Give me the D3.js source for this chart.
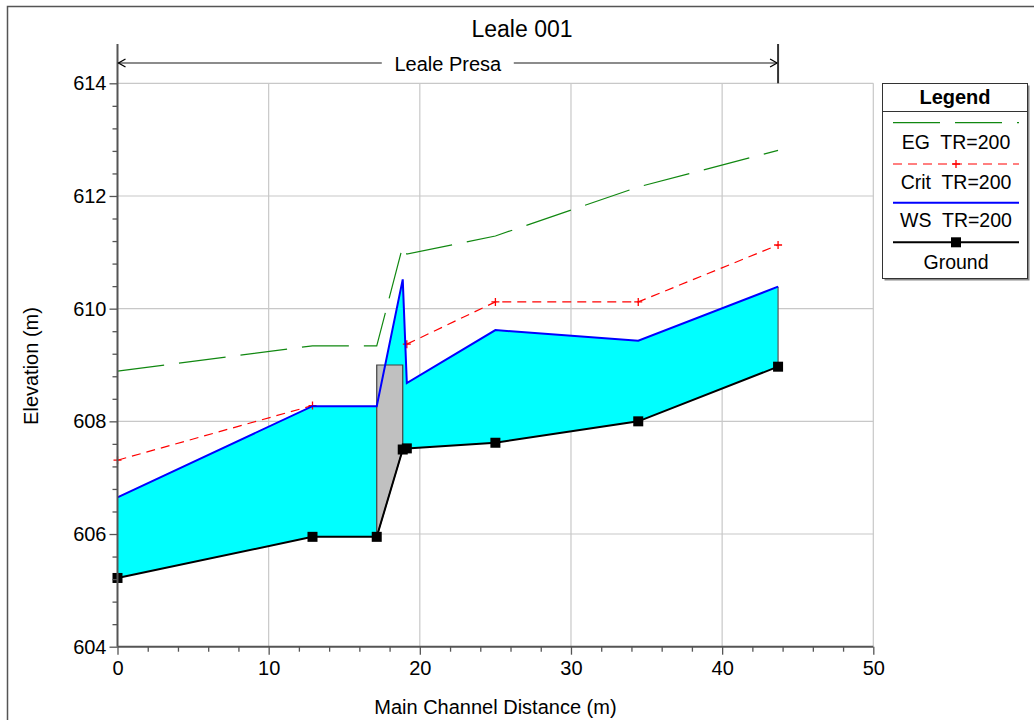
<!DOCTYPE html>
<html><head><meta charset="utf-8">
<script src="https://cdn.jsdelivr.net/npm/d3@7"></script>
<style>
html,body{margin:0;padding:0;background:#fff;}
text{font-family:"Liberation Sans",Arial,sans-serif;fill:#000;}
</style></head>
<body>
<svg id="chart" width="1034" height="720"></svg>
<script>
// ---- data ----
const title = "Leale 001";
const reachName = "Leale Presa";
const stations = [0, 12.9, 17.15, 18.87, 19.14, 25.0, 34.45, 43.7];
const ground   = [605.22, 605.95, 605.95, 607.50, 607.52, 607.62, 608.00, 608.97];
const wsTR200  = [606.65, 608.27, 608.27, 610.52, 608.68, 609.62, 609.43, 610.39];
const critTR200= [607.31, 608.28, null, null, 609.37, 610.12, 610.12, 611.13];
const egTR200  = [608.89, 609.34, 609.34, 611.11, 610.97, 611.29, 612.16, 612.81];
const weirStations = [17.15, 18.87];
const weirTop = 609.0;
const xTicks = [0, 10, 20, 30, 40, 50];
const yTicks = [604, 606, 608, 610, 612, 614];
const legendLabels = ["EG  TR=200", "Crit  TR=200", "WS  TR=200", "Ground"];

// ---- layout ----
const svg = d3.select("#chart");
const x = d3.scaleLinear().domain([0, 50]).range([117.5, 873.3]);
const y = d3.scaleLinear().domain([604, 614]).range([646.7, 83.3]);

// outer frame
svg.append("rect").attr("x", 7.5).attr("y", 6.5).attr("width", 1040).attr("height", 730)
  .attr("fill", "none").attr("stroke", "#555").attr("stroke-width", 1.5);

// grid
const g = svg.append("g");
g.selectAll(".vg").data(xTicks.slice(1)).join("line")
  .attr("x1", d => x(d)).attr("x2", d => x(d)).attr("y1", y(604)).attr("y2", y(614))
  .attr("stroke", "#c8c8c8").attr("stroke-width", 1.2);
g.selectAll(".hg").data(yTicks.slice(1)).join("line")
  .attr("x1", x(0)).attr("x2", x(50)).attr("y1", d => y(d)).attr("y2", d => y(d))
  .attr("stroke", "#c8c8c8").attr("stroke-width", 1.2);

const pts = (arr) => stations.map((s, i) => [s, arr[i]]);

// water fill between ground and WS
const area = d3.area().x(d => x(d[0])).y0(d => y(d[1])).y1(d => y(d[2]));
g.append("path")
  .datum(stations.map((s, i) => [s, ground[i], wsTR200[i]]))
  .attr("d", area).attr("fill", "#00ffff").attr("stroke", "none");
// end vertical edge
g.append("line").attr("x1", x(stations[7])).attr("x2", x(stations[7]))
  .attr("y1", y(wsTR200[7])).attr("y2", y(ground[7])).attr("stroke", "#555").attr("stroke-width", 1.2);

// inline structure (weir)
const weirPoly = [[weirStations[0], weirTop], [weirStations[1], weirTop], [weirStations[1], ground[3]], [weirStations[0], ground[2]]];
g.append("path").datum(weirPoly)
  .attr("d", d3.line().x(d => x(d[0])).y(d => y(d[1])).curve(d3.curveLinearClosed))
  .attr("fill", "#c0c0c0").attr("stroke", "#404040").attr("stroke-width", 1.2);

const line = d3.line().defined(d => d[1] !== null).x(d => x(d[0])).y(d => y(d[1]));

// EG
g.append("path").datum(pts(egTR200)).attr("d", line).attr("fill", "none")
  .attr("stroke", "#118811").attr("stroke-width", 1.2).attr("stroke-dasharray", "47,15");
// Crit
g.append("path").datum(pts(critTR200)).attr("d", line).attr("fill", "none")
  .attr("stroke", "#ff0000").attr("stroke-width", 1.2).attr("stroke-dasharray", "9,6");
const plus = (sel, cx, cy) => {
  sel.append("path").attr("d", `M${cx-4},${cy}H${cx+4}M${cx},${cy-4}V${cy+4}`)
    .attr("stroke", "#ff0000").attr("stroke-width", 1.3).attr("fill", "none");
};
pts(critTR200).filter(d => d[1] !== null).forEach(d => plus(g, x(d[0]), y(d[1])));
// WS
g.append("path").datum(pts(wsTR200)).attr("d", line).attr("fill", "none")
  .attr("stroke", "#0000ff").attr("stroke-width", 2);
// Ground
g.append("path").datum(pts(ground)).attr("d", line).attr("fill", "none")
  .attr("stroke", "#000").attr("stroke-width", 2);
g.selectAll(".gm").data(pts(ground)).join("rect")
  .attr("x", d => x(d[0]) - 5).attr("y", d => y(d[1]) - 5).attr("width", 10).attr("height", 10)
  .attr("fill", "#000");

// axes
const axCol = "#555";
const xAxis = svg.append("g").attr("transform", `translate(0,${y(604)})`)
  .call(d3.axisBottom(x).tickValues(xTicks).tickSize(8).tickPadding(6).tickFormat(d3.format("d")));
const yAxis = svg.append("g").attr("transform", `translate(${x(0)},0)`)
  .call(d3.axisLeft(y).tickValues(yTicks).tickSize(8).tickPadding(3).tickFormat(d3.format("d")));
// minor ticks
const xMinor = d3.range(0, 50.01, 2).filter(v => v % 10 !== 0);
const yMinor = d3.range(604, 614.01, 0.4).filter(v => Math.abs(v - Math.round(v / 2) * 2) > 0.01);
svg.append("g").attr("transform", `translate(0,${y(604)})`)
  .call(d3.axisBottom(x).tickValues(xMinor).tickSize(5).tickFormat(""))
  .call(s => s.select(".domain").remove());
svg.append("g").attr("transform", `translate(${x(0)},0)`)
  .call(d3.axisLeft(y).tickValues(yMinor).tickSize(5).tickFormat(""))
  .call(s => s.select(".domain").remove());
svg.selectAll(".tick line").attr("stroke", axCol).attr("stroke-width", 1.3);
[xAxis, yAxis].forEach(a => {
  a.select(".domain").attr("stroke", axCol).attr("stroke-width", 2);
  a.selectAll(".tick text").style("font-size", "20px").style("font-family", "Liberation Sans, Arial").attr("fill", "#000");
});
xAxis.select(".domain").attr("d", `M${x(0)},0H${x(50)}`);
yAxis.select(".domain").attr("d", `M0,${y(604)}V44`);

// axis titles
svg.append("text").attr("x", x(0) + (x(50) - x(0)) / 2).attr("y", 714).attr("text-anchor", "middle")
  .style("font-size", "20px").text("Main Channel Distance (m)");
svg.append("text").attr("transform", `translate(38,${(y(604) + y(614)) / 2 + 1}) rotate(-90)`)
  .attr("text-anchor", "middle").style("font-size", "20px").text("Elevation (m)");

// title
svg.append("text").attr("x", 522).attr("y", 37).attr("text-anchor", "middle")
  .style("font-size", "23px").text(title);

// reach annotation
const rx0 = x(0), rx1 = x(stations[7]), ry = 63;
svg.append("line").attr("x1", rx1).attr("x2", rx1).attr("y1", 44).attr("y2", y(614))
  .attr("stroke", "#333").attr("stroke-width", 2);
const mid = (rx0 + rx1) / 2;
svg.append("line").attr("x1", rx0).attr("x2", mid - 66).attr("y1", ry).attr("y2", ry).attr("stroke", "#666").attr("stroke-width", 1.3);
svg.append("line").attr("x1", mid + 66).attr("x2", rx1).attr("y1", ry).attr("y2", ry).attr("stroke", "#666").attr("stroke-width", 1.3);
svg.append("path").attr("d", `M${rx0+8},${ry-4}L${rx0+1},${ry}L${rx0+8},${ry+4}`).attr("fill", "none").attr("stroke", "#000").attr("stroke-width", 1.3);
svg.append("path").attr("d", `M${rx1-8},${ry-4}L${rx1-1},${ry}L${rx1-8},${ry+4}`).attr("fill", "none").attr("stroke", "#000").attr("stroke-width", 1.3);
svg.append("text").attr("x", mid).attr("y", 71).attr("text-anchor", "middle")
  .style("font-size", "20px").text(reachName);

// legend
const L = svg.append("g");
L.append("rect").attr("x", 884.5).attr("y", 85.5).attr("width", 145).attr("height", 195).attr("fill", "#888");
L.append("rect").attr("x", 882.5).attr("y", 83.5).attr("width", 145).attr("height", 195)
  .attr("fill", "#fff").attr("stroke", "#333").attr("stroke-width", 1);
L.append("line").attr("x1", 882.5).attr("x2", 1027.5).attr("y1", 111.5).attr("y2", 111.5).attr("stroke", "#333");
L.append("text").attr("x", 955).attr("y", 104).attr("text-anchor", "middle")
  .style("font-size", "20px").style("font-weight", "bold").text("Legend");
const lx0 = 893, lx1 = 1019, lmid = 956;
const rowsY = [122.7, 164, 202.7, 242.3];
const textY = [149, 189, 227, 269];
L.append("line").attr("x1", lx0).attr("x2", lx1).attr("y1", rowsY[0]).attr("y2", rowsY[0])
  .attr("stroke", "#118811").attr("stroke-width", 1.3).attr("stroke-dasharray", "47,15");
L.append("line").attr("x1", lx0).attr("x2", lx1).attr("y1", rowsY[1]).attr("y2", rowsY[1])
  .attr("stroke", "#ff0000").attr("stroke-width", 1.2).attr("stroke-dasharray", "9,6");
plus(L, lmid, rowsY[1]);
L.append("line").attr("x1", lx0).attr("x2", lx1).attr("y1", rowsY[2]).attr("y2", rowsY[2])
  .attr("stroke", "#0000ff").attr("stroke-width", 2);
L.append("line").attr("x1", lx0).attr("x2", lx1).attr("y1", rowsY[3]).attr("y2", rowsY[3])
  .attr("stroke", "#000").attr("stroke-width", 2);
L.append("rect").attr("x", lmid - 5).attr("y", rowsY[3] - 5).attr("width", 10).attr("height", 10).attr("fill", "#000");
legendLabels.forEach((t, i) => {
  L.append("text").attr("x", lmid).attr("y", textY[i]).attr("text-anchor", "middle")
    .style("font-size", "19.5px").style("white-space", "pre").text(t);
});
</script>
</body></html>
